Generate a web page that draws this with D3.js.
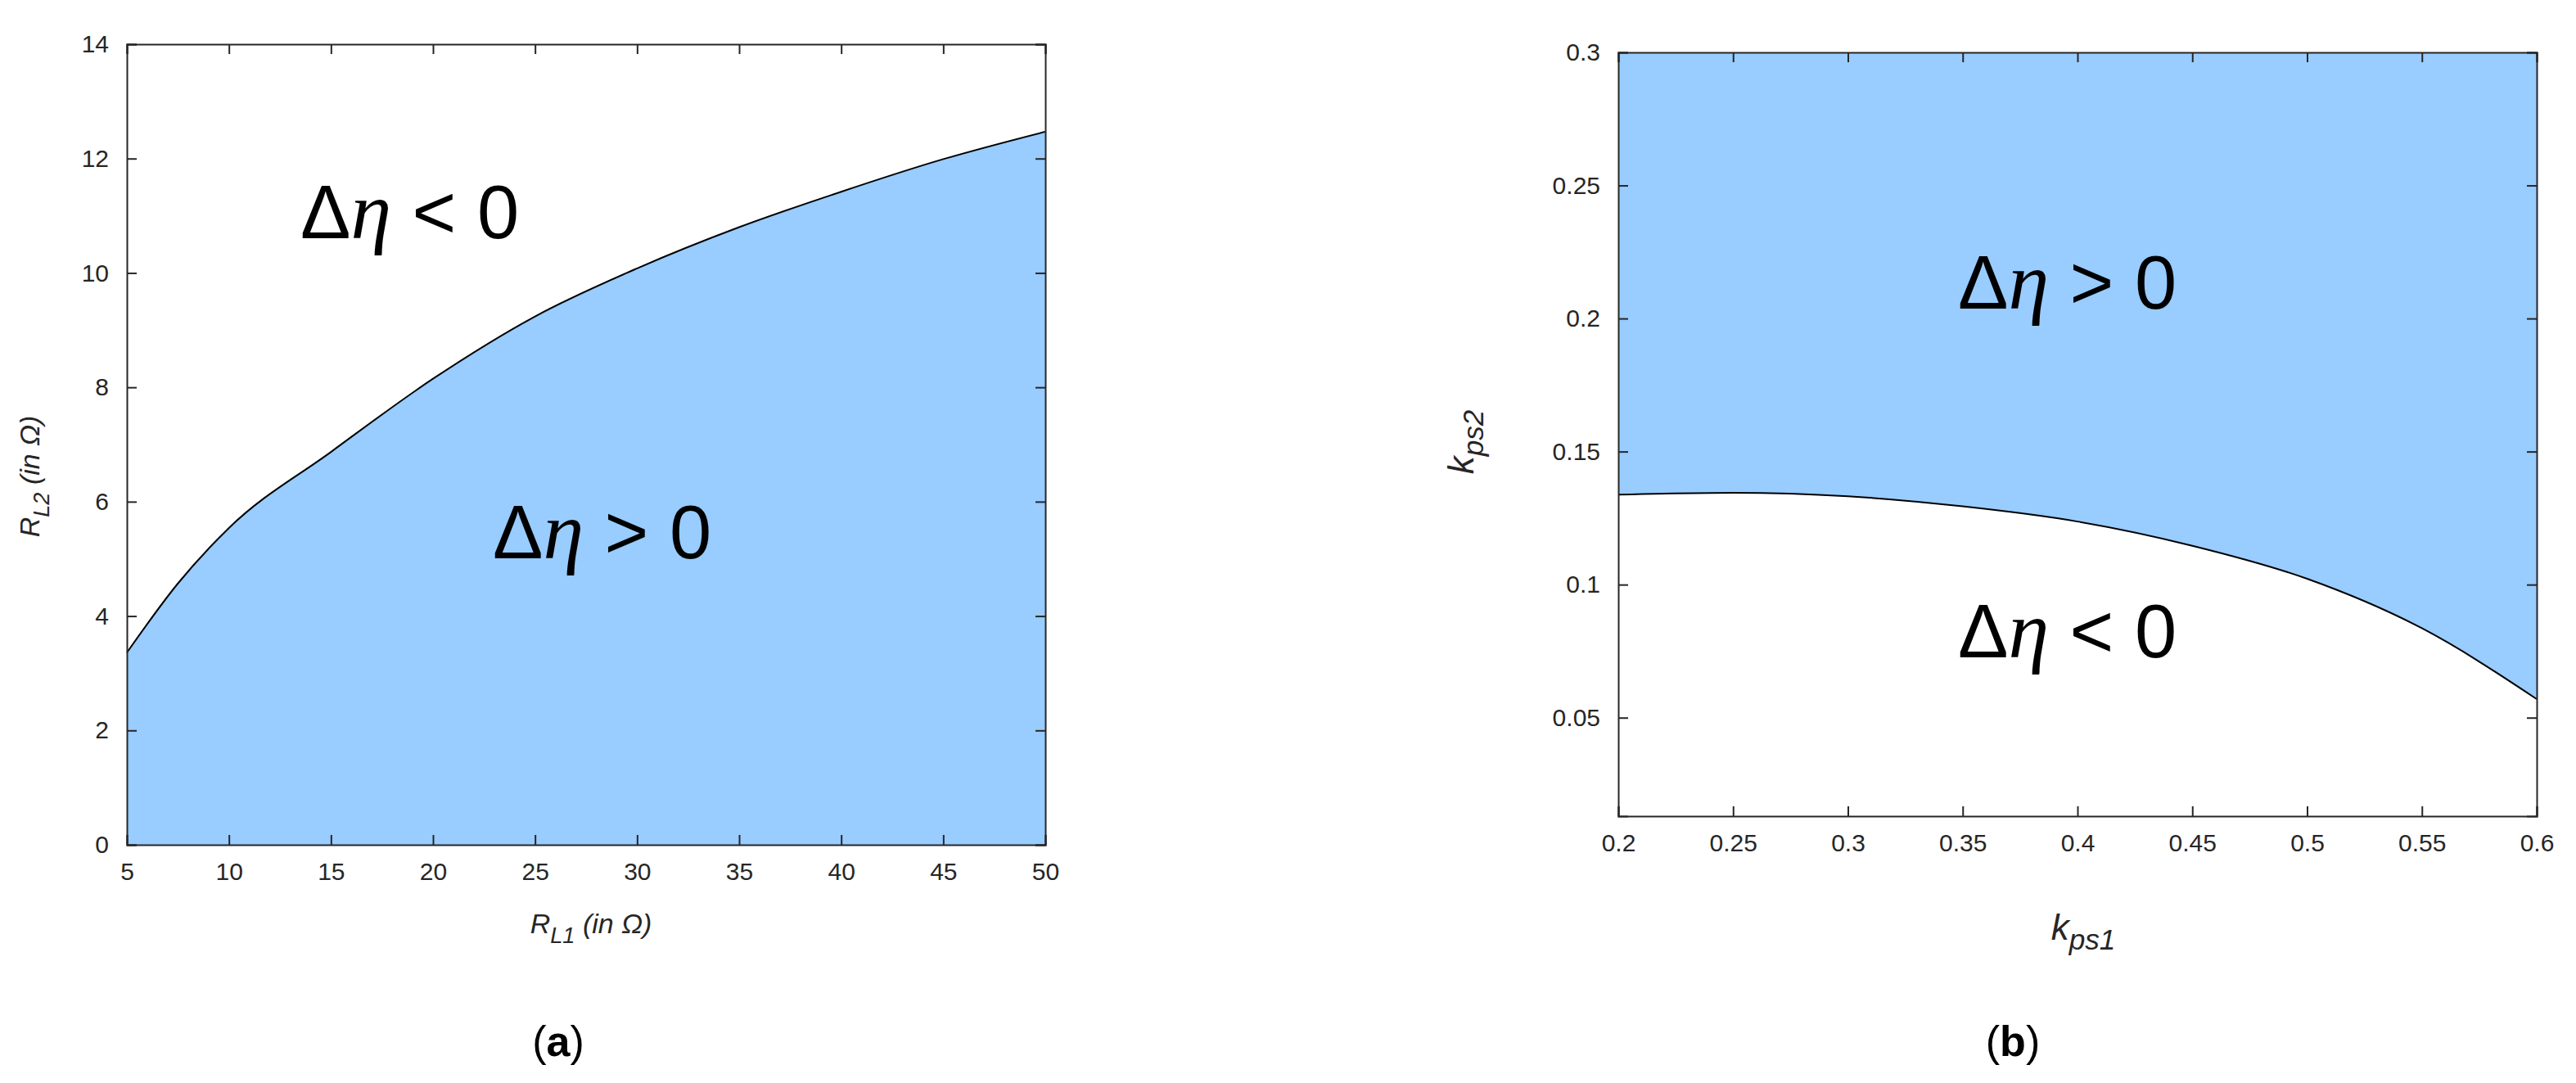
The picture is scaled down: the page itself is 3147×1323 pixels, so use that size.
<!DOCTYPE html>
<html><head><meta charset="utf-8">
<script src="https://cdn.jsdelivr.net/npm/d3@7"></script>
<style>body{margin:0;background:#fff}text{font-family:"Liberation Sans",Arial,sans-serif}</style>
</head><body>
<svg id="chart" width="3147" height="1323"></svg>
<script>
// panel (a)
const rl1 = [5, 7.5, 10, 15, 20, 25, 30, 35, 40, 45, 50]
const rl2 = [3.36, 4.57, 5.54, 6.87, 8.15, 9.24, 10.08, 10.8, 11.42, 11.99, 12.47]
const xTicksA = [5, 10, 15, 20, 25, 30, 35, 40, 45, 50]
const yTicksA = [0, 2, 4, 6, 8, 10, 12, 14]
// panel (b)
const kps1 = [0.2, 0.25, 0.3, 0.35, 0.4, 0.45, 0.5, 0.55, 0.6]
const kps2 = [0.1338, 0.1345, 0.1332, 0.1294, 0.1237, 0.1146, 0.1022, 0.0836, 0.057]
const xTicksB = [0.2, 0.25, 0.3, 0.35, 0.4, 0.45, 0.5, 0.55, 0.6]
const yTicksB = [0.05, 0.1, 0.15, 0.2, 0.25, 0.3]

const svg = d3.select('#chart')
const fill = '#99ccff'

function panel(o) {
  const x = d3.scaleLinear().domain(o.xd).range([o.x0, o.x1])
  const y = d3.scaleLinear().domain(o.yd).range([o.y1, o.y0])
  const pts = o.xs.map((d, i) => [d, o.ys[i]])
  const curve = d3.line().x(d => x(d[0])).y(d => y(d[1])).curve(d3.curveMonotoneX)
  const area = d3.area().x(d => x(d[0])).y0(o.fillBelow ? y(o.yd[0]) : y(o.yd[1])).y1(d => y(d[1])).curve(d3.curveMonotoneX)
  svg.append('path').attr('d', area(pts)).attr('fill', fill)
  svg.append('path').attr('d', curve(pts)).attr('fill', 'none').attr('stroke', '#000').attr('stroke-width', 2)

  const fmt = d => String(d)
  const style = g => {
    g.select('.domain').attr('stroke', '#262626').attr('stroke-width', 2)
    g.selectAll('.tick line').attr('stroke', '#262626').attr('stroke-width', 2)
    g.selectAll('.tick text').attr('font-size', 30).attr('fill', '#262626')
  }
  svg.append('g').attr('transform', `translate(0,${o.y1})`)
    .call(d3.axisBottom(x).tickValues(o.xt).tickFormat(fmt).tickSize(-12).tickPadding(22)).call(style)
  svg.append('g').attr('transform', `translate(0,${o.y0})`)
    .call(d3.axisTop(x).tickValues(o.xt).tickFormat('').tickSize(-12)).call(style)
  svg.append('g').attr('transform', `translate(${o.x0},0)`)
    .call(d3.axisLeft(y).tickValues(o.yt).tickFormat(fmt).tickSize(-12).tickPadding(22)).call(style)
  svg.append('g').attr('transform', `translate(${o.x1},0)`)
    .call(d3.axisRight(y).tickValues(o.yt).tickFormat('').tickSize(-12)).call(style)

  // region labels
  o.labels.forEach(l => {
    const t = svg.append('text').attr('x', l.x).attr('y', l.y).attr('font-size', 92).attr('fill', '#000')
    t.append('tspan').text('Δ')
    t.append('tspan').attr('font-family', 'Liberation Serif, serif').attr('font-style', 'italic').attr('font-size', 100).text('η')
    t.append('tspan').text(' ' + l.s + ' 0')
  })
  // axis titles
  const xt = svg.append('text').attr('x', o.xtx).attr('y', o.xty).attr('text-anchor', 'middle')
    .attr('font-size', o.tsize).attr('font-style', 'italic').attr('fill', '#262626')
  xt.append('tspan').text(o.xlab[0])
  xt.append('tspan').attr('dy', 12).attr('font-size', o.tsize * 0.8).text(o.xlab[1])
  xt.append('tspan').attr('dy', -12).text(o.xlab[2])
  const yt = svg.append('text').attr('transform', `translate(${o.ytx},${o.yty}) rotate(-90)`).attr('text-anchor', 'middle')
    .attr('font-size', o.tsize).attr('font-style', 'italic').attr('fill', '#262626')
  yt.append('tspan').text(o.ylab[0])
  yt.append('tspan').attr('dy', 12).attr('font-size', o.tsize * 0.8).text(o.ylab[1])
  yt.append('tspan').attr('dy', -12).text(o.ylab[2])
  // caption
  const c = svg.append('text').attr('x', o.cx).attr('y', 1290).attr('text-anchor', 'middle')
    .attr('font-size', 52).attr('font-family', 'Liberation Serif, serif')
  c.append('tspan').text('(')
  c.append('tspan').attr('font-weight', 'bold').text(o.cap)
  c.append('tspan').text(')')
}

panel({ xd: [5, 50], yd: [0, 14], x0: 155, x1: 1277, y0: 54, y1: 1032, xs: rl1, ys: rl2, fillBelow: true,
  xt: xTicksA, yt: yTicksA,
  labels: [{ x: 367, y: 291, s: '<' }, { x: 602, y: 682, s: '>' }],
  xlab: ['R', 'L1', ' (in Ω)'], ylab: ['R', 'L2', ' (in Ω)'], tsize: 34,
  xtx: 722, xty: 1140, ytx: 48, yty: 582, cap: 'a', cx: 682 })

panel({ xd: [0.2, 0.6], yd: [0.013, 0.3], x0: 1977, x1: 3099, y0: 64, y1: 997, xs: kps1, ys: kps2, fillBelow: false,
  xt: xTicksB, yt: yTicksB,
  labels: [{ x: 2392, y: 377, s: '>' }, { x: 2392, y: 803, s: '<' }],
  xlab: ['k', 'ps1', ''], ylab: ['k', 'ps2', ''], tsize: 44,
  xtx: 2545, xty: 1148, ytx: 1800, yty: 540, cap: 'b', cx: 2459 })
</script>
</body></html>
